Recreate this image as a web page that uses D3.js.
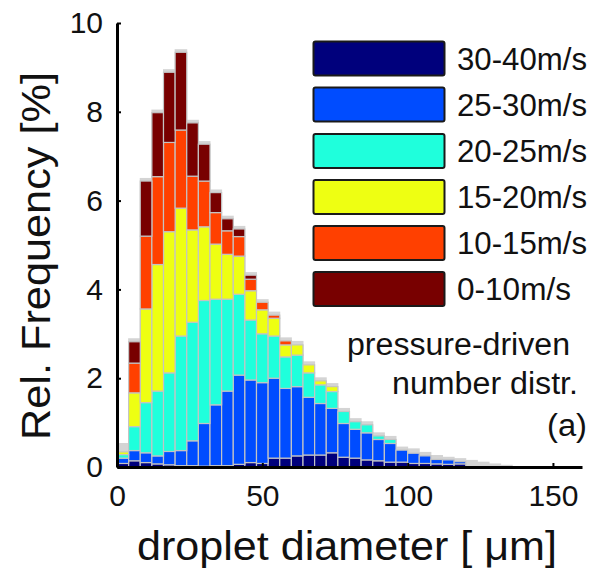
<!DOCTYPE html>
<html>
<head>
<meta charset="utf-8">
<script src="https://cdn.jsdelivr.net/npm/d3@7"></script>
<style>
  html, body { margin: 0; padding: 0; background: #fff; }
  svg { display: block; }
  text { font-family: "Liberation Sans", Arial, Helvetica, sans-serif; fill: #111; }
</style>
</head>
<body>
<svg id="chart" width="591" height="577"></svg>
<script>
// ---------- data ----------
const binWidth = 4; // μm
const binStarts = [0,4,8,12,16,20,24,28,32,36,40,44,48,52,56,60,64,68,72,76,80,84,88,92,96,100,104,108,112,116];
const seriesLabels = ["30-40m/s","25-30m/s","20-25m/s","15-20m/s","10-15m/s","0-10m/s"];
const seriesColors = ["#00007c","#004cff","#1fffdc","#eeff12","#ff4000","#780000"];
const v3040 = [0.08,0.14,0.10,0.07,0.05,0.03,0.03,0.02,0.03,0.03,0.06,0.10,0.08,0.20,0.20,0.25,0.27,0.27,0.32,0.22,0.20,0.16,0.14,0.11,0.11,0.08,0.08,0.07,0.06,0.07];
const v2530 = [0.12,0.23,0.22,0.18,0.30,0.34,0.56,0.96,1.37,1.68,2.01,1.86,1.82,1.80,1.57,1.56,1.30,1.16,1.00,0.76,0.65,0.61,0.48,0.42,0.27,0.23,0.17,0.10,0.10,0.05];
const v2025 = [0.08,0.54,1.13,1.46,1.77,2.58,2.67,2.77,2.38,2.07,1.82,1.35,1.10,0.95,0.71,0.71,0.55,0.42,0.38,0.27,0.17,0.18,0.08,0.09,0,0,0,0,0,0];
const v1520 = [0.06,0.76,2.11,2.85,3.18,2.88,2.08,1.66,1.24,1.01,0.86,0.66,0.54,0.40,0.27,0.23,0.18,0.09,0.11,0,0,0,0,0,0,0,0,0,0,0];
const v1015 = [0,0.67,1.64,1.98,2.01,1.76,1.21,1.03,0.71,0.53,0.44,0.26,0.17,0.07,0.09,0,0,0,0,0,0,0,0,0,0,0,0,0,0,0];
const v0010 = [0,0.48,1.24,1.44,1.58,1.75,1.20,0.83,0.45,0.27,0.17,0.09,0,0,0,0,0,0,0,0,0,0,0,0,0,0,0,0,0,0];
// light-grey background histogram (extends into the tail)
const grayStarts = [0,4,8,12,16,20,24,28,32,36,40,44,48,52,56,60,64,68,72,76,80,84,88,92,96,100,104,108,112,116,120,124,128,132];
const grayValues = [0.54,2.90,6.51,8.05,8.96,9.41,7.82,7.34,6.25,5.66,5.43,4.39,3.78,3.50,2.92,2.84,2.38,2.02,1.89,1.33,1.10,1.03,0.78,0.70,0.46,0.42,0.34,0.27,0.23,0.20,0.16,0.12,0.08,0.05];
const xTicks = [0,50,100,150];
const yTicks = [0,2,4,6,8,10];
const annotation = ["pressure-driven","number distr.","(a)"];

// ---------- layout ----------
const plotLeft = 117, plotRight = 582, plotTop = 23, plotBottom = 467;
const svg = d3.select("#chart");

const x = d3.scaleLinear().domain([0,160]).range([plotLeft,plotRight]);
const y = d3.scaleLinear().domain([0,10]).range([plotBottom,plotTop]);

// grey background bars
svg.append("g").selectAll("rect").data(grayStarts.map((s,i)=>({s,v:grayValues[i]})))
  .join("rect")
  .attr("x", d=>x(d.s)-0.5)
  .attr("width", d=>x(d.s+binWidth)-x(d.s)+1)
  .attr("y", d=>y(d.v))
  .attr("height", d=>y(0)-y(d.v))
  .attr("fill","#d4d4d4");

// stacked bars
const rows = binStarts.map((s,i)=>({s, k0:v3040[i], k1:v2530[i], k2:v2025[i], k3:v1520[i], k4:v1015[i], k5:v0010[i]}));
const keys = ["k0","k1","k2","k3","k4","k5"];
const stacked = d3.stack().keys(keys)(rows);
svg.append("g").selectAll("g").data(stacked).join("g")
  .attr("fill",(d,i)=>seriesColors[i])
  .selectAll("rect").data(d=>d.filter(p=>p[1]-p[0]>0)).join("rect")
  .attr("x", d=>x(d.data.s))
  .attr("width", d=>x(d.data.s+binWidth)-x(d.data.s))
  .attr("y", d=>y(d[1]))
  .attr("height", d=>y(d[0])-y(d[1]))
  .attr("stroke","#c4c4c4")
  .attr("stroke-width",1.2);

// axes
const xAxis = d3.axisBottom(x).tickValues(xTicks).tickSizeInner(-4).tickSizeOuter(0).tickPadding(18);
const yAxis = d3.axisLeft(y).tickValues(yTicks).tickSizeInner(-4).tickSizeOuter(0).tickPadding(14);
const gx = svg.append("g").attr("transform",`translate(0,${plotBottom})`).call(xAxis);
const gy = svg.append("g").attr("transform",`translate(${plotLeft},0)`).call(yAxis);
[gx,gy].forEach(g=>{
  g.select(".domain").attr("stroke","#000").attr("stroke-width",3);
  g.selectAll(".tick line").attr("stroke","#000").attr("stroke-width",2);
  g.selectAll(".tick text").attr("font-size",30).attr("font-family","Liberation Sans, Arial, sans-serif").attr("fill","#1a1a1a");
});

// axis labels
svg.append("text")
  .attr("x",347).attr("y",560)
  .attr("text-anchor","middle")
  .attr("font-size",40)
  .attr("textLength",420).attr("lengthAdjust","spacingAndGlyphs")
  .text("droplet diameter [ μm]");
svg.append("text")
  .attr("transform","translate(50,256) rotate(-90)")
  .attr("text-anchor","middle")
  .attr("font-size",40)
  .attr("textLength",368).attr("lengthAdjust","spacingAndGlyphs")
  .text("Rel. Frequency [%]");

// legend
const legendTop = [41.5,87.5,134,180,226,272];
const legendTextLen = [130,130,130,130,130,114];
const lg = svg.append("g");
seriesLabels.forEach((lab,i)=>{
  lg.append("rect").attr("x",313.5).attr("y",legendTop[i]).attr("width",131).attr("height",34)
    .attr("rx",2).attr("fill",seriesColors[i]).attr("stroke","#1a1a1a").attr("stroke-width",2);
  lg.append("text").attr("x",457).attr("y",legendTop[i]+17).attr("dy","0.36em")
    .attr("font-size",31)
    .attr("textLength",legendTextLen[i]).attr("lengthAdjust","spacingAndGlyphs")
    .attr("fill","#1a1a1a").text(lab);
});

// annotation
const annLeft = [347,392,547];
const annLen = [223,186,40];
const annBase = [355,394,436];
annotation.forEach((t,i)=>{
  svg.append("text").attr("x",annLeft[i]).attr("y",annBase[i])
    .attr("font-size",31).attr("fill","#222")
    .attr("textLength",annLen[i]).attr("lengthAdjust","spacingAndGlyphs")
    .text(t);
});
</script>
</body>
</html>
